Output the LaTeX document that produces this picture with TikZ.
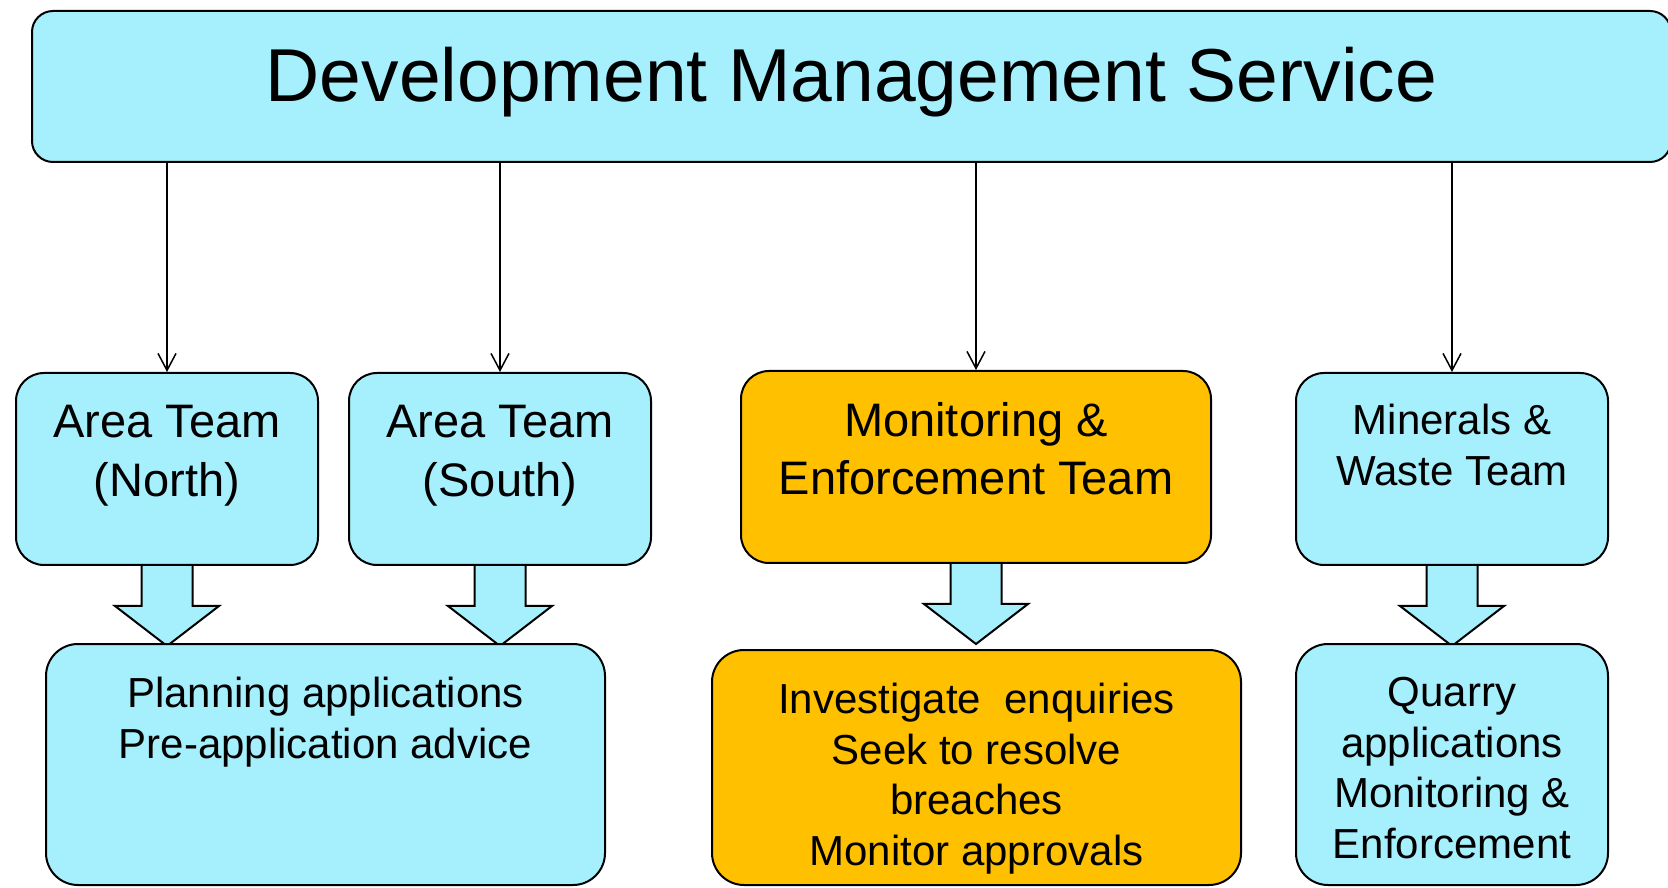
\documentclass[tikz,border=0pt]{standalone}
\usepackage{fontspec}
\setmainfont{Liberation Sans}
\usepackage{tikz}
\usetikzlibrary{positioning,backgrounds,arrows.meta}
\definecolor{teamcyan}{RGB}{166,239,253}
\definecolor{teamgold}{RGB}{255,192,0}

\begin{document}
\begin{tikzpicture}[x=1pt,y=1pt]
\tikzset{box/.style={draw=black, line width=2pt, rounded corners=28pt, fill=teamcyan, inner sep=0pt}}
\tikzset{gold/.style={box, fill=teamgold}}
\tikzset{titlefont/.style={inner sep=0pt, font=\fontsize{75}{90}\selectfont}}
\tikzset{teamfont/.style={align=center, inner sep=0pt, font=\fontsize{47}{58.5}\selectfont}}
\tikzset{smallfont/.style={align=center, inner sep=0pt, font=\fontsize{42}{50.5}\selectfont}}
\tikzset{link/.style={line width=1.5pt, -{Straight Barb[length=17pt,width=18pt]}}}
\tikzset{fat arrow/.pic={\draw[line width=2pt, fill=teamcyan]
  (-25.5,0) -- (-25.5,-40) -- (-52,-40) -- (0,-80) -- (52,-40) -- (25.5,-40) -- (25.5,0);}}

\useasboundingbox (0,0) rectangle (1668,887);

% top of the service
\node[box, rounded corners=21pt, minimum width=1639pt, minimum height=151pt] (dms) at (851.5,800.5) {};
\node[titlefont, below=37pt of dms.north] (dmstxt) {Development Management Service};

% the four teams
\node[box, minimum width=302pt, minimum height=192pt] (areaN) at (167,418) {};
\node[box, minimum width=302pt, minimum height=192pt] (areaS) at (500,418) {};
\node[gold, minimum width=470pt, minimum height=192pt] (monit) at (976,420) {};
\node[box, minimum width=312pt, minimum height=192pt] (minwaste) at (1452,418) {};
\node[teamfont, below=33pt of areaN.north] (areaNtxt) {Area Team\\(North)};
\node[teamfont, below=33pt of areaS.north] (areaStxt) {Area Team\\(South)};
\node[teamfont, below=32pt of monit.north] (monittxt) {Monitoring \&\\Enforcement Team};
\node[smallfont, below=32pt of minwaste.north] (minwastetxt) {Minerals \&\\Waste Team};

% what each team does
\node[box, rounded corners=32pt, minimum width=559pt, minimum height=241pt] (planning) at (325.5,122.5) {};
\node[gold, rounded corners=32pt, minimum width=529pt, minimum height=235pt] (enquiry) at (976.5,119.5) {};
\node[box, rounded corners=32pt, minimum width=312pt, minimum height=241pt] (quarry) at (1452,122.5) {};
\node[smallfont, below=34pt of planning.north] (planningtxt) {Planning applications\\Pre-application advice};
\node[smallfont, below=34pt of enquiry.north] (enquirytxt) {Investigate\ \ enquiries\\Seek to resolve\\breaches\\Monitor approvals};
\node[smallfont, below=34pt of quarry.north] (quarrytxt) {Quarry\\applications\\Monitoring \&\\Enforcement};

\draw[link] (dms.south -| areaN.north) -- (areaN.north);
\draw[link] (dms.south -| areaS.north) -- (areaS.north);
\draw[link] (dms.south -| monit.north) -- (monit.north);
\draw[link] (dms.south -| minwaste.north) -- (minwaste.north);

\begin{scope}[on background layer]
\pic at (areaN.south) {fat arrow};
\pic at (areaS.south) {fat arrow};
\pic at (monit.south) {fat arrow};
\pic at (minwaste.south) {fat arrow};
\end{scope}
\end{tikzpicture}
\end{document}
